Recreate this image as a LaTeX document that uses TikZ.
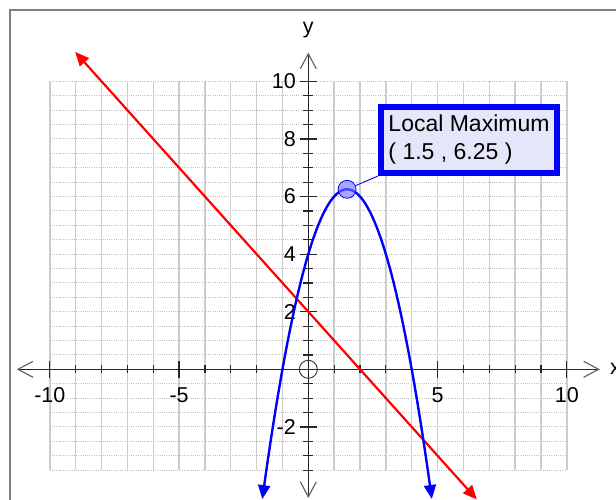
\documentclass[tikz,border=0pt]{standalone}
\usepackage{fontspec}
\setmainfont{Liberation Sans}
\usetikzlibrary{arrows.meta, positioning, calc}
\definecolor{lavender}{RGB}{230,230,250}
\definecolor{dotblue}{RGB}{110,110,255}

\begin{document}
\begin{tikzpicture}[
    x=25.85pt, y=28.8pt,
    every node/.style={font=\fontsize{21.5}{25}\selectfont},
    vgrid/.style={draw=black!20, line width=1.4pt},
    hgrid/.style={draw=black!25, line width=0.9pt, dash pattern=on 1pt off 1.2pt},
    border/.style={draw=black!50, line width=1.6pt},
    axisline/.style={draw=black!85, line width=1.2pt,
        {Straight Barb[length=15pt,width=16pt,color=black!60]}-{Straight Barb[length=15pt,width=16pt,color=black!60]}},
    axtick/.style={draw=black!85, line width=1.2pt},
    redline/.style={draw=red, line width=2.2pt,
        {Triangle[length=14pt,width=12pt]}-{Triangle[length=14pt,width=12pt]}},
    bluecurve/.style={draw=blue, line width=2.4pt,
        {Triangle[length=14pt,width=12pt]}-{Triangle[length=14pt,width=12pt]}},
    maxdot/.style={circle, draw=blue, line width=0.8pt, fill=dotblue, fill opacity=0.6,
        minimum size=18pt, inner sep=0pt},
    origdot/.style={circle, draw=black!75, line width=1pt, minimum size=18pt, inner sep=0pt},
    callout/.style={draw=blue, line width=6pt, fill=lavender, minimum width=176pt,
        minimum height=66pt, align=left, inner sep=0pt, font=\fontsize{23}{28}\selectfont}
]
\useasboundingbox (-11.927,-4.538) rectangle (11.903,12.823);

% Grid
\foreach \j in {-3.5,-3,...,10}
    \draw[hgrid] (-10,\j) -- (10,\j);
\foreach \i in {-10,...,10}
    \draw[vgrid] (\i,-3.5) -- (\i,10);

% Frame
\draw[border] (-11.54,-5) |- (12.5,12.476);

% Axes
\coordinate (xmin) at (-11.28,0);
\coordinate (xmax) at (11.28,0);
\coordinate (ymin) at (0,-4.47);
\coordinate (ymax) at (0,11.0);
\draw[axisline] (xmin) -- (xmax);
\draw[axisline] (ymin) -- (ymax);
\node[anchor=west, inner sep=0pt] (xlab) at (11.67,0) {x};
\node (ylab) at (0,11.78) {y};

% Ticks
\foreach \i in {-10,...,-1,1,2,...,10}
    \draw[axtick] (\i,0) ++(0,-4pt) -- ++(0,8pt);
\foreach \i in {-10,-5,5,10}
    \draw[axtick] (\i,0) ++(0,-8.5pt) -- ++(0,17pt);
\foreach \j in {-3.5,-3,...,-0.5,0.5,1,...,10}
    \draw[axtick] (0,\j) ++(-5pt,0) -- ++(10pt,0);
\foreach \j in {-2,2,4,...,10}
    \draw[axtick] (0,\j) ++(-8.5pt,0) -- ++(17pt,0);
\node[origdot] (orig) at (0,0) {};

% Tick labels
\foreach \i in {-10,-5,5,10}
    \node (xl\i) at (\i,-0.89) {\i};
\foreach \j in {-2,2,4,...,10}
    \node[anchor=east, inner sep=0pt] (yl\j) at (-0.476,\j) {\j};

% Line and parabola
\coordinate (redA) at (-9.02,11.02);
\coordinate (redB) at (6.52,-4.52);
\draw[redline] (redA) -- (redB);
\draw[bluecurve, domain=-1.78:4.78, samples=90] plot (\x, {6.25-(\x-1.5)^2});

% Local maximum
\node[maxdot] (maxpt) at (1.5,6.25) {};
\node[callout] (lmax) at (6.217,7.962) {Local Maximum\\( 1.5 , 6.25 )};
\draw[blue, line width=0.9pt] (maxpt) -- (lmax.south west);

\end{tikzpicture}
\end{document}
